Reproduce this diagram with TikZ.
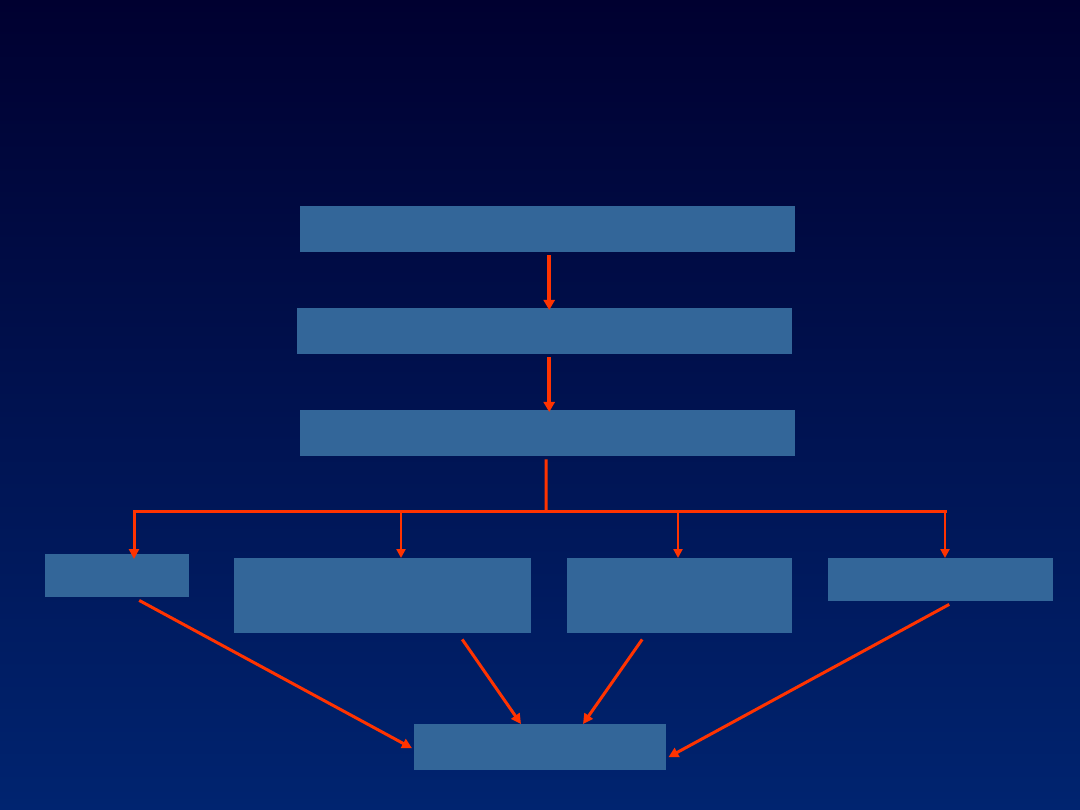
\documentclass[tikz,border=0pt]{standalone}
\usetikzlibrary{arrows.meta}
\definecolor{bgtop}{RGB}{0,0,48}
\definecolor{bgbot}{RGB}{0,36,112}
\definecolor{boxfill}{RGB}{51,102,153}
\definecolor{arrred}{RGB}{255,51,0}
\tikzset{
  box/.style={fill=boxfill, draw=none, inner sep=0pt, anchor=north west},
  bigarr/.style={draw=arrred, line width=4pt, -{Triangle[length=10pt,width=11pt]}},
  arr/.style={draw=arrred, line width=3pt, -{Triangle[length=10pt,width=10pt]}},
  thinarr/.style={draw=arrred, line width=2.7pt, -{Triangle[length=9pt,width=9pt]}},
  busline/.style={draw=arrred, line width=3pt}
}
\begin{document}
\begin{tikzpicture}[x=1pt,y=1pt]
\useasboundingbox (0,0) rectangle (1080,-810);
\shade[top color=bgtop, bottom color=bgbot] (0,0) rectangle (1080,-810);
% boxes
\node[box, minimum width=495, minimum height=46] (A) at (300,-206) {};
\node[box, minimum width=495, minimum height=46] (B) at (297,-308) {};
\node[box, minimum width=495, minimum height=46] (C) at (300,-410) {};
\node[box, minimum width=144, minimum height=43] (D1) at (45,-554) {};
\node[box, minimum width=297, minimum height=75] (D2) at (234,-558) {};
\node[box, minimum width=225, minimum height=75] (D3) at (567,-558) {};
\node[box, minimum width=225, minimum height=43] (D4) at (828,-558) {};
\node[box, minimum width=252, minimum height=46] (E) at (414,-724) {};
% vertical arrows
\draw[bigarr] ([shift={(1.5,-3)}]A.south) -- ([shift={(4.5,-2)}]B.north);
\draw[bigarr] ([shift={(4.5,-3)}]B.south) -- ([shift={(1.5,-2)}]C.north);
% bus
\coordinate (bus) at (546,-511);
\coordinate (bL) at (134,-511);
\coordinate (b2) at (401,-511);
\coordinate (b3) at (678,-511);
\coordinate (bR) at (945,-511);
\draw[busline] ([shift={(-1.5,-3)}]C.south) -- (bus);
\draw[busline, line cap=rect] (bL) -- (bR);
\draw[arr] (bL) -- ([yshift=-5]bL |- D1.north);
\draw[thinarr] (b2) -- (b2 |- D2.north);
\draw[thinarr] (b3) -- (b3 |- D3.north);
\draw[thinarr] (bR) -- (bR |- D4.north);
% diagonals
\draw[arr] ([shift={(22,-3)}]D1.south) -- ([shift={(-2,-1)}]E.west);
\draw[arr] ([shift={(79.5,-6)}]D2.south) -- ([shift={(107,0)}]E.north west);
\draw[arr] ([shift={(-37.5,-6)}]D3.south) -- ([shift={(169,0)}]E.north west);
\draw[arr] ([shift={(8.5,-3)}]D4.south) -- ([shift={(2,-10)}]E.east);
\end{tikzpicture}
\end{document}
